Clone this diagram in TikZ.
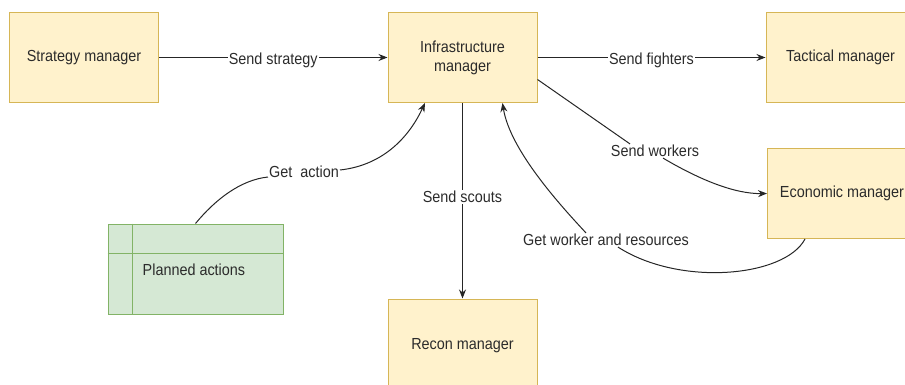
\documentclass[tikz,border=0pt]{standalone}
\usepackage{fontspec}
\setmainfont{Liberation Sans}[FakeStretch=0.9]
\usetikzlibrary{arrows.meta}
\definecolor{ybg}{HTML}{FFF2CC}
\definecolor{ybd}{HTML}{D6B656}
\definecolor{gbg}{HTML}{D5E8D4}
\definecolor{gbd}{HTML}{82B366}
\definecolor{txt}{HTML}{2B2B2B}
\begin{document}
\begin{tikzpicture}[x=1pt,y=-1pt,
  box/.style={draw=ybd,fill=ybg,line width=1pt,minimum width=149pt,minimum height=90pt,inner sep=0pt,text=txt,font=\fontsize{16}{19}\selectfont,align=center},
  tbox/.style={draw=gbd,fill=gbg,line width=1pt,minimum width=175pt,minimum height=90pt,inner sep=0pt},
  lbl/.style={fill=white,inner sep=1pt,text=txt,font=\fontsize{16}{19}\selectfont},
  elbl/.style={lbl,yshift=-2.5pt},
  plain/.style={inner sep=0pt,text=txt,font=\fontsize{16}{19}\selectfont},
  conn/.style={draw=black!85,line width=1pt},
  arr/.style={conn,-{Stealth[length=9pt,width=7pt]}}]
\useasboundingbox (0,0) rectangle (905,385);
\clip (0,0) rectangle (905,385);
% boxes
\node[box] (strat) at (84,57.5) {Strategy manager};
\node[box] (infra) at (462.5,57.5) {Infrastructure\\manager};
\node[box] (tact) at (840.5,57.5) {Tactical manager};
\node[box] (econ) at (842,193.5) {Economic manager};
\node[box,minimum height=94pt] (recon) at (462.5,346) {Recon manager};
% table
\node[tbox] (tbl) at (195.5,269) {};
\draw[gbd,line width=1pt] ([xshift=25pt]tbl.north west) -- ([xshift=25pt]tbl.south west);
\draw[gbd,line width=1pt] ([yshift=-30pt]tbl.north west) -- ([yshift=-30pt]tbl.north east);
\node[plain,anchor=west] (pa) at (142.5,270) {Planned actions};
% straight edges
\draw[arr] (strat) -- node[elbl]{Send strategy} (infra);
\draw[arr] (infra) -- node[elbl]{Send fighters} (tact);
\draw[arr] (infra) -- node[lbl,pos=0.48]{Send scouts} (recon);
% get action
\node[lbl] (ga) at (304,172) {Get\ \ action};
\draw[conn] (tbl.north) .. controls (215,200) and (240,180) .. ([yshift=-5pt]ga.west);
\draw[arr] ([yshift=2pt]ga.east) .. controls (385,165) and (410,135) .. ([xshift=-37.5pt]infra.south);
% send workers
\node[lbl] (sw) at (655,151) {Send workers};
\draw[conn] ([yshift=-22pt]infra.east) -- ([xshift=-25pt]sw.north);
\draw[arr] ([xshift=8pt]sw.south) .. controls (700,180) and (735,194) .. (econ.west);
% get worker and resources
\node[lbl] (gw) at (606,240) {Get worker and resources};
\draw[conn] ([xshift=-37pt]econ.south) .. controls (785,277) and (680,287) .. ([xshift=12pt]gw.south);
\draw[arr] ([xshift=-20pt]gw.north) .. controls (560,205) and (510,150) .. ([xshift=40pt]infra.south);
\end{tikzpicture}
\end{document}
